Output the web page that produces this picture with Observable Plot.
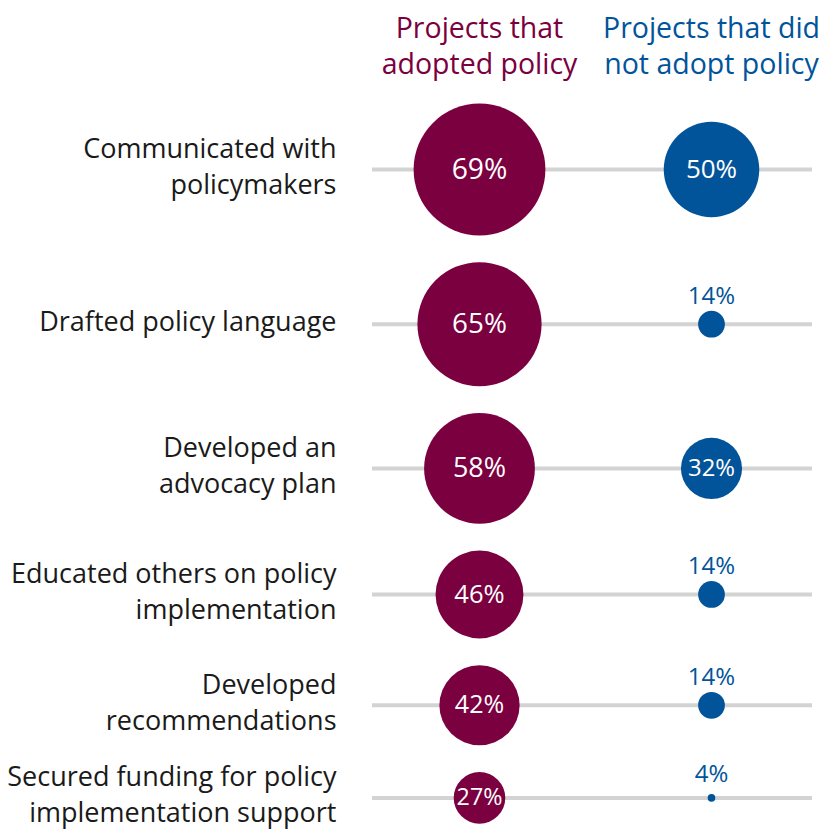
<!DOCTYPE html>
<html>
<head>
<meta charset="utf-8">
<script src="https://cdn.jsdelivr.net/npm/d3@7"></script>
<script src="https://cdn.jsdelivr.net/npm/@observablehq/plot@0.6"></script>
<style>
  html, body { margin: 0; padding: 0; background: #ffffff; }
  #chart svg { display: block; }
</style>
</head>
<body>
<div id="chart"></div>
<script>
// ---- data ----
const categories = [
  "Communicated with\npolicymakers",
  "Drafted policy language",
  "Developed an\nadvocacy plan",
  "Educated others on policy\nimplementation",
  "Developed\nrecommendations",
  "Secured funding for policy\nimplementation support"
];
const adoptedValues = [69, 65, 58, 46, 42, 27];
const notAdoptedValues = [50, 14, 32, 14, 14, 4];
const groups = ["Projects that\nadopted policy", "Projects that did\nnot adopt policy"];
const groupColors = ["#7b0040", "#02549a"];

// ---- layout derived from data: rows stacked by bubble size ----
const K = 0.955;      // pixels per percentage point of radius
const GAP = 28;       // spacing between neighbouring bubbles (in value units)
const rows = [];
categories.forEach((c, i) => {
  const big = Math.max(adoptedValues[i], notAdoptedValues[i]);
  let pos = 0;
  if (i > 0) {
    const prev = rows[i - 1];
    pos = prev.pos + prev.big + big + GAP;
  }
  rows.push({category: c, pos, big, adopted: adoptedValues[i], notAdopted: notAdoptedValues[i]});
});
const long = rows.flatMap(r => [
  {group: groups[0], value: r.adopted, pos: r.pos},
  {group: groups[1], value: r.notAdopted, pos: r.pos}
]);
const inside = d => d.group === groups[0] || d.value >= 30;
const lastPos = rows[rows.length - 1].pos;
const firstY = 169;

const chart = Plot.plot({
  width: 821,
  height: 832,
  marginLeft: 372,
  marginRight: 9,
  marginTop: 0,
  marginBottom: 0,
  style: {fontFamily: "'Open Sans', sans-serif", background: "#ffffff"},
  x: {type: "point", domain: groups, range: [479, 711], padding: 0, axis: null},
  y: {type: "linear", domain: [0, lastPos], range: [firstY, firstY + lastPos * K], axis: null},
  r: {type: "linear", domain: [0, 100], range: [0, 100 * K]},
  color: {domain: groups, range: groupColors},
  marks: [
    Plot.ruleY(rows, {y: "pos", stroke: "#d3d3d3", strokeWidth: 4}),
    Plot.dot(long, {x: "group", y: "pos", r: "value", fill: "group", stroke: null}),
    Plot.text(long.filter(inside), {
      x: "group", y: "pos", text: d => d.value + "%", fill: "white",
      fontSize: d => 20 + 0.12 * d.value, lineAnchor: "middle"
    }),
    Plot.text(long.filter(d => !inside(d)), {
      x: "group", y: d => d.pos - (0.4 * d.value + 15.5), text: d => d.value + "%",
      fill: groupColors[1], fontSize: 24, lineAnchor: "bottom"
    }),
    Plot.text(rows, {
      y: "pos", text: "category", frameAnchor: "left", textAnchor: "end", dx: -36, dy: -5,
      fontSize: 27, lineHeight: 36 / 27, fill: "#1a1a1a", lineAnchor: "middle"
    }),
    Plot.text(groups, {
      x: d => d, text: d => d, fill: d => d, frameAnchor: "top", lineAnchor: "top",
      fontSize: 28.5, lineHeight: 36 / 28.5, dy: 12
    })
  ]
});
document.getElementById("chart").appendChild(chart);
</script>
</body>
</html>
